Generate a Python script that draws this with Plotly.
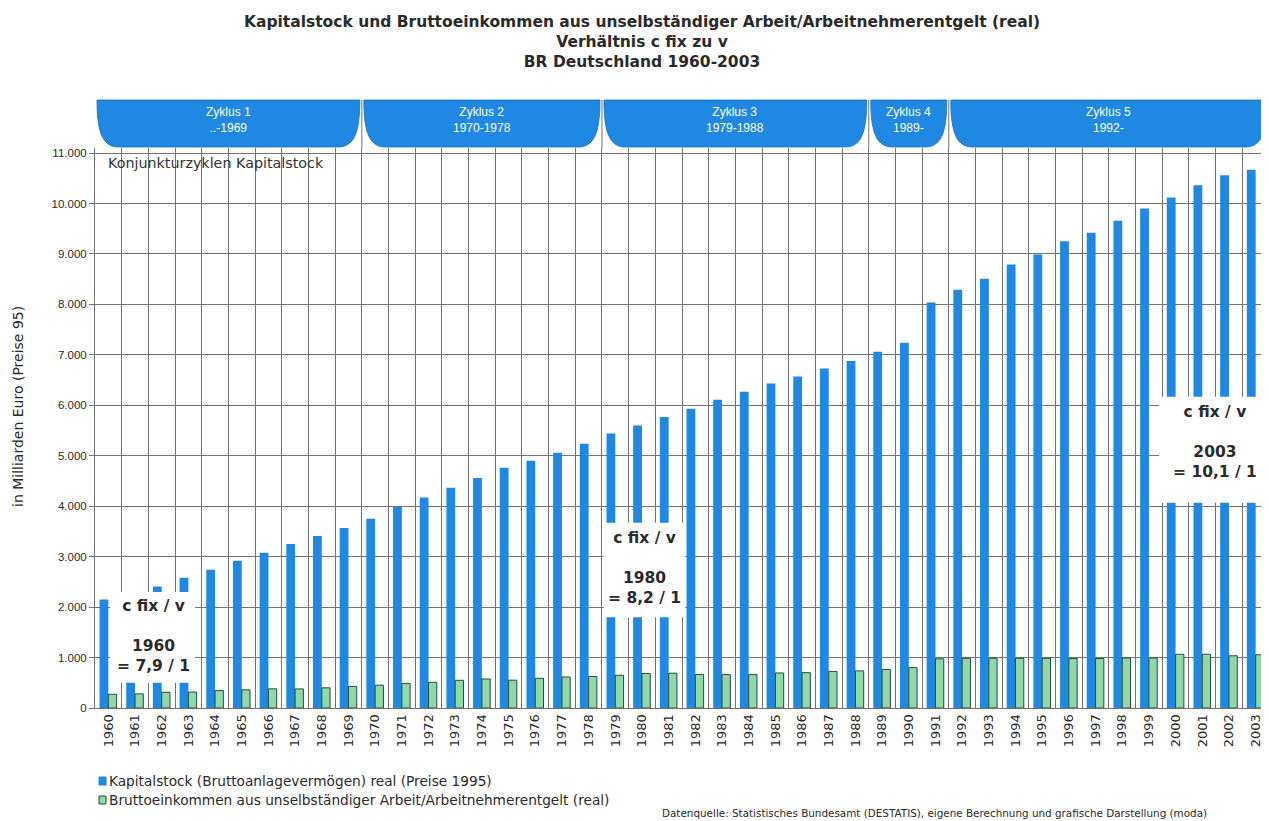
import plotly.graph_objects as go

# Daten, Milliarden Euro, Preise 1995
jahre = [str(j) for j in range(1960, 2004)]
kapitalstock = [2150, 2290, 2410, 2580, 2740, 2920, 3075, 3250, 3410, 3570,
                3750, 3990, 4170, 4365, 4560, 4760, 4900, 5060, 5240, 5440,
                5600, 5770, 5930, 6110, 6270, 6430, 6570, 6730, 6880, 7060,
                7240, 8040, 8290, 8510, 8790, 8990, 9250, 9420, 9660, 9900,
                10120, 10360, 10560, 10670]
einkommen = [272, 280, 312, 315, 346, 360, 380, 378, 400, 427,
             453, 488, 508, 549, 575, 552, 589, 615, 625, 650,
             683, 690, 665, 662, 662, 695, 700, 725, 735, 765,
             800, 975, 985, 985, 985, 985, 980, 980, 990, 990,
             1065, 1065, 1035, 1056]

zyklen = ['Zyklus 1', 'Zyklus 2', 'Zyklus 3', 'Zyklus 4', 'Zyklus 5']
zyklen_zeit = ['..-1969', '1970-1978', '1979-1988', '1989-', '1992-']
zyklen_von = ['1960', '1970', '1979', '1989', '1992']
zyklen_bis = ['1969', '1978', '1988', '1991', '2003']

verh_jahr = ['1960', '1980', '2003']
verh_wert = ['7,9', '8,2', '10,1']

blau = '#1e88e2'
gruen = '#8ed9aa'
gitter = '#737373'
txt = '#2a2a2a'
arial = 'Liberation Sans, Arial, sans-serif'
breit = 'DejaVu Sans, Verdana, sans-serif'

n = len(jahre)

fig = go.Figure()
fig.add_trace(go.Bar(x=jahre, y=kapitalstock, name='Kapitalstock (Bruttoanlagevermögen) real (Preise 1995)',
                     marker=dict(color=blau, line=dict(width=0)), offset=-0.33, width=0.33))
fig.add_trace(go.Bar(x=jahre, y=einkommen, name='Bruttoeinkommen aus unselbständiger Arbeit/Arbeitnehmerentgelt (real)',
                     marker=dict(color=gruen, line=dict(color='#2b4a36', width=1)), offset=0.0, width=0.31))

# Bildschirm-Pixel (Referenz) -> paper
def pxx(p):
	return (p - 95)/1174.0

def pxy(p):
	return (708 - p)/560.0

# Kopfzeile mit Konjunkturzyklen
yt = pxy(100)
yb = pxy(147)
rx = 0.018
for i in range(len(zyklen)):
	a = jahre.index(zyklen_von[i]) - 0.5
	b = jahre.index(zyklen_bis[i]) + 0.5
	x0 = (a + 0.5)/n + 0.0017
	x1 = (b + 0.5)/n - 0.0017
	ym = yb + (yt - yb)*0.45
	path = ('M %f,%f L %f,%f C %f,%f %f,%f %f,%f L %f,%f C %f,%f %f,%f %f,%f Z' %
		(x0, yt, x1, yt, x1, ym, x1 - rx*0.15, yb, x1 - rx, yb, x0 + rx, yb, x0 + rx*0.15, yb, x0, ym, x0, yt))
	fig.add_shape(type='path', path=path, xref='paper', yref='paper',
		fillcolor=blau, line=dict(color='#1a6fb8', width=0.8), layer='above')
	fig.add_annotation(x=(x0 + x1)/2, y=yt - 0.006, xref='paper', yref='paper', xanchor='center', yanchor='top',
		text=zyklen[i] + '<br>' + zyklen_zeit[i], showarrow=False,
		font=dict(color='white', size=12, family=arial))
	if i > 0:
		fig.add_shape(type='line', xref='paper', yref='paper', x0=(a + 0.5)/n, x1=(a + 0.5)/n,
			y0=1.0, y1=yt, line=dict(color=gitter, width=1))

fig.add_annotation(x=pxx(106), y=pxy(163), xref='paper', yref='paper', xanchor='left', yanchor='middle',
	text='Konjunkturzyklen Kapitalstock', showarrow=False, font=dict(size=14.3, color='#333', family=breit))

# Kästen c fix / v
kaesten = [(0.07, 3.25, 500, 2300, 1.7, 1429),
           (18.56, 21.62, 1800, 3670, 20.1, 2778),
           (39.38, 43.5, 4070, 6170, 41.46, 5278)]
for k in range(len(verh_jahr)):
	x0, x1, y0, y1, xc, yc = kaesten[k]
	fig.add_shape(type='rect', xref='x', yref='y', x0=x0, x1=x1, y0=y0, y1=y1,
		fillcolor='white', line=dict(width=0), layer='above')
	fig.add_annotation(x=xc, y=yc, xref='x', yref='y', showarrow=False, xanchor='center', yanchor='middle',
		text='<b>c fix / v<br><br>' + verh_jahr[k] + '<br>= ' + verh_wert[k] + ' / 1</b>',
		font=dict(size=15.5, color=txt, family=breit))

# Legende
leg_y = [781, 800]
leg_farbe = [blau, gruen]
leg_rand = [blau, '#2b4a36']
leg_text = ['Kapitalstock (Bruttoanlagevermögen) real (Preise 1995)',
            'Bruttoeinkommen aus unselbständiger Arbeit/Arbeitnehmerentgelt (real)']
for i in range(2):
	yp = pxy(leg_y[i])
	fig.add_shape(type='rect', xref='paper', yref='paper',
		x0=pxx(99), x1=pxx(106), y0=yp - 4/560, y1=yp + 4/560,
		fillcolor=leg_farbe[i], line=dict(color=leg_rand[i], width=1))
	fig.add_annotation(x=pxx(107), y=yp, xref='paper', yref='paper', xanchor='left', yanchor='middle',
		text=leg_text[i], showarrow=False, font=dict(size=13.7, color=txt, family=breit))

fig.add_annotation(x=pxx(660), y=pxy(813), xref='paper', yref='paper', xanchor='left', yanchor='middle',
	text='Datenquelle: Statistisches Bundesamt (DESTATIS), eigene Berechnung und grafische Darstellung (moda)',
	showarrow=False, font=dict(size=10.4, color=txt, family=breit))

fig.add_annotation(x=pxx(18), y=pxy(407), xref='paper', yref='paper', textangle=-90,
	xanchor='center', yanchor='middle',
	text='in Milliarden Euro (Preise 95)', showarrow=False, font=dict(size=14, color=txt, family=breit))

# die Seite hat 8px Rand, deshalb 1261x813 und um 8px verschobene Ränder
fig.update_layout(
	title=dict(text='<b>Kapitalstock und Bruttoeinkommen aus unselbständiger Arbeit/Arbeitnehmerentgelt (real)</b><br>'
	                '<b>Verhältnis c fix zu v</b><br><b>BR Deutschland 1960-2003</b>',
	           x=0.5028, xanchor='center', y=0.9766, yanchor='top', yref='container',
	           font=dict(size=15.5, color=txt, family=breit)),
	width=1261, height=813,
	margin=dict(l=87, r=0, t=140, b=113),
	barmode='overlay', showlegend=False,
	paper_bgcolor='white', plot_bgcolor='white',
	separators=',.',
	font=dict(family=arial, color=txt),
)
fig.update_xaxes(type='category', tickson='boundaries', showgrid=True, gridcolor=gitter, gridwidth=1,
	tickangle=-90, tickfont=dict(size=13, color=txt, family=breit), ticks='', showline=True, linecolor=gitter,
	range=[-0.5, n - 0.5])
fig.update_yaxes(range=[0, 11100], dtick=1000, tickformat=',d', showgrid=True, gridcolor=gitter, gridwidth=1,
	ticks='outside', ticklen=5, tickcolor=gitter, tickfont=dict(size=11.5, color=txt),
	showline=True, linecolor=gitter, zeroline=False)

fig.write_html('out.html')
